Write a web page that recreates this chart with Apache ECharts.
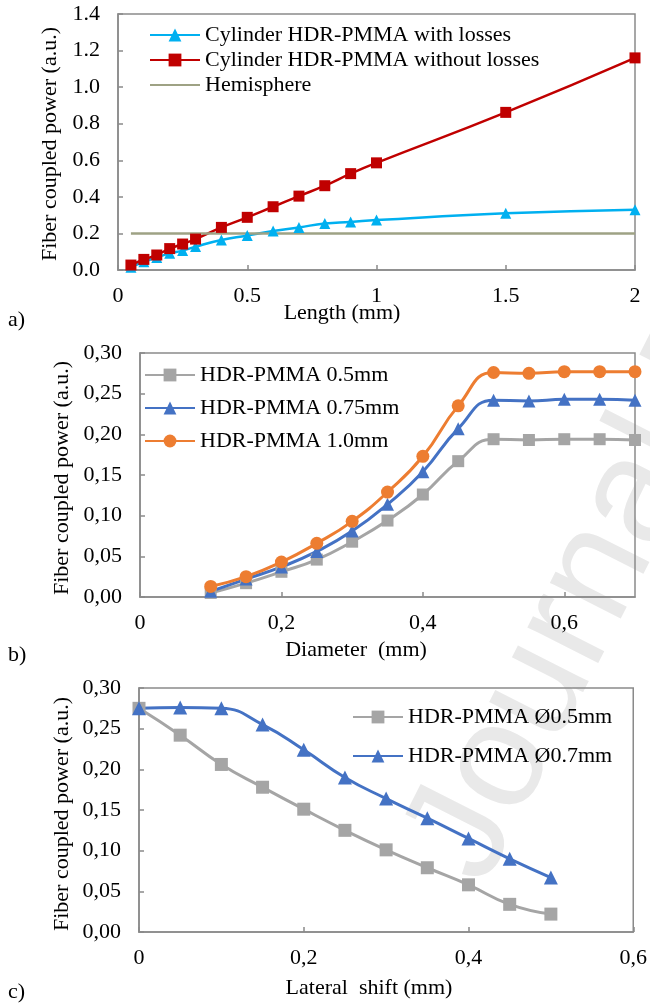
<!DOCTYPE html>
<html>
<head>
<meta charset="utf-8">
<script src="https://cdn.jsdelivr.net/npm/echarts@6/dist/echarts.min.js"></script>
<style>
  html, body { margin: 0; padding: 0; background: #fff; }
  #main { width: 650px; height: 1003px; }
</style>
</head>
<body>
<div id="main"></div>
<script>
// a) fiber coupled power vs length
const lengthMm = [0.05, 0.1, 0.15, 0.2, 0.25, 0.3, 0.4, 0.5, 0.6, 0.7, 0.8, 0.9, 1, 1.5, 2]
const withLosses = [0.015, 0.045, 0.069, 0.091, 0.106, 0.128, 0.164, 0.188, 0.213, 0.233, 0.254, 0.263, 0.273, 0.31, 0.33]
const withoutLosses = [0.027, 0.058, 0.082, 0.117, 0.142, 0.169, 0.233, 0.288, 0.346, 0.404, 0.461, 0.527, 0.586, 0.862, 1.16]
const hemisphereX = [0.05, 2]
const hemisphere = [0.2, 0.2]

// b) vs diameter
const diameterMm = [0.1, 0.15, 0.2, 0.25, 0.3, 0.35, 0.4, 0.45, 0.5, 0.55, 0.6, 0.65, 0.7]
const len05 = [0.005, 0.017, 0.031, 0.046, 0.068, 0.094, 0.126, 0.167, 0.194, 0.193, 0.194, 0.194, 0.193]
const len075 = [0.007, 0.022, 0.037, 0.056, 0.081, 0.114, 0.154, 0.207, 0.242, 0.241, 0.243, 0.243, 0.242]
const len10 = [0.013, 0.025, 0.043, 0.066, 0.093, 0.129, 0.173, 0.235, 0.276, 0.275, 0.277, 0.277, 0.277]

// c) vs lateral shift
const shiftMm = [0, 0.05, 0.1, 0.15, 0.2, 0.25, 0.3, 0.35, 0.4, 0.45, 0.5]
const dia05 = [0.275, 0.242, 0.206, 0.178, 0.151, 0.125, 0.101, 0.079, 0.058, 0.034, 0.022]
const dia07 = [0.275, 0.276, 0.275, 0.255, 0.224, 0.19, 0.164, 0.14, 0.115, 0.09, 0.067]

const FONT = "'Liberation Serif', 'Times New Roman', serif"
const FS = 22
const AXIS = '#8a8a8a'

const pairs = (xs, ys) => xs.map((x, i) => [x, ys[i]])
const comma = (v, d) => v.toFixed(d).replace('.', ',')

function xAxis(idx, max, interval, fmt) {
  return {
    type: 'value', gridIndex: idx, min: 0, max: max, interval: interval,
    splitLine: { show: false },
    axisLine: { lineStyle: { color: AXIS, width: 1.5 } },
    axisTick: { inside: true, length: 5, lineStyle: { color: AXIS, width: 1.5 } },
    axisLabel: { color: '#000', fontFamily: FONT, fontSize: FS, margin: 15, formatter: fmt, showMaxLabel: idx !== 1 }
  }
}
function yAxis(idx, max, interval, fmt) {
  return {
    type: 'value', gridIndex: idx, min: 0, max: max, interval: interval,
    splitLine: { show: false },
    axisLine: { show: true, lineStyle: { color: AXIS, width: 1.5 } },
    axisTick: { show: true, inside: true, length: 5, lineStyle: { color: AXIS, width: 1.5 } },
    axisLabel: { color: '#000', fontFamily: FONT, fontSize: FS, margin: 18, formatter: fmt }
  }
}
function line(name, idx, data, color, symbol, size, width, smooth) {
  return {
    name: name, type: 'line', xAxisIndex: idx, yAxisIndex: idx,
    data: data, smooth: smooth, symbol: symbol, symbolSize: size,
    lineStyle: { color: color, width: width },
    itemStyle: { color: color },
    showSymbol: symbol !== 'none'
  }
}
function legend(names, left, top, gap) {
  return {
    data: names, orient: 'vertical', left: left, top: top, itemGap: gap,
    itemWidth: 50, itemHeight: 16,
    textStyle: { color: '#000', fontFamily: FONT, fontSize: FS }
  }
}
function label(text, x, y, rot) {
  return {
    type: 'text', x: x, y: y, rotation: rot || 0,
    style: { text: text, fill: '#000', fontFamily: FONT, fontSize: FS, textAlign: 'center', textVerticalAlign: 'middle', align: 'center', verticalAlign: 'middle' }
  }
}

const chart = echarts.init(document.getElementById('main'))
chart.setOption({
  animation: false,
  grid: [
    { left: 118, top: 14, width: 517, height: 256, show: true, borderColor: AXIS, borderWidth: 1.5 },
    { left: 140, top: 353, width: 495, height: 244, show: true, borderColor: AXIS, borderWidth: 1.5 },
    { left: 139, top: 688, width: 496, height: 244, show: true, borderColor: AXIS, borderWidth: 1.5 }
  ],
  xAxis: [
    xAxis(0, 2, 0.5, v => String(v)),
    xAxis(1, 0.7, 0.2, v => v === 0 ? '0' : comma(v, 1)),
    xAxis(2, 0.6, 0.2, v => v === 0 ? '0' : comma(v, 1))
  ],
  yAxis: [
    yAxis(0, 1.4, 0.2, v => v.toFixed(1)),
    yAxis(1, 0.3, 0.05, v => comma(v, 2)),
    yAxis(2, 0.3, 0.05, v => comma(v, 2))
  ],
  legend: [
    legend(['Cylinder HDR-PMMA with losses', 'Cylinder HDR-PMMA without losses',
      { name: 'Hemisphere', itemStyle: { opacity: 0 } }], 144, 19, 3),
    legend(['HDR-PMMA 0.5mm', 'HDR-PMMA 0.75mm', 'HDR-PMMA 1.0mm'], 139, 359, 11),
    legend(['HDR-PMMA Ø0.5mm', 'HDR-PMMA Ø0.7mm'], 347, 701, 17)
  ],
  series: [
    line('Cylinder HDR-PMMA with losses', 0, pairs(lengthMm, withLosses), '#00b0f0', 'triangle', 11, 2.5, true),
    line('Cylinder HDR-PMMA without losses', 0, pairs(lengthMm, withoutLosses), '#c00000', 'rect', 11, 2.5, true),
    line('Hemisphere', 0, pairs(hemisphereX, hemisphere), '#9ea284', 'none', 0, 2.5, false),
    line('HDR-PMMA 0.5mm', 1, pairs(diameterMm, len05), '#a5a5a5', 'rect', 12, 3, true),
    line('HDR-PMMA 0.75mm', 1, pairs(diameterMm, len075), '#4472c4', 'triangle', 13, 3, true),
    line('HDR-PMMA 1.0mm', 1, pairs(diameterMm, len10), '#ed7d31', 'circle', 13, 3, true),
    line('HDR-PMMA Ø0.5mm', 2, pairs(shiftMm, dia05), '#a5a5a5', 'rect', 13, 3, true),
    line('HDR-PMMA Ø0.7mm', 2, pairs(shiftMm, dia07), '#4472c4', 'triangle', 14, 3, true)
  ],
  graphic: [
    // watermark
    {
      type: 'text', x: 380, y: 835, rotation: 1.1, z: -10,
      style: { text: 'Journal Pre-proof', fill: '#e9e9e9', fontFamily: "'Liberation Sans', Arial, sans-serif", fontSize: 150 }
    },
    label('Fiber coupled power (a.u.)', 50, 144, Math.PI / 2),
    label('Length (mm)', 342, 313),
    label('Fiber coupled power (a.u.)', 62, 478, Math.PI / 2),
    label('Diameter  (mm)', 356, 650),
    label('Fiber coupled power (a.u.)', 62, 814, Math.PI / 2),
    label('Lateral  shift (mm)', 369, 988),
    { type: 'text', left: 8, top: 309, style: { text: 'a)', fill: '#000', fontFamily: FONT, fontSize: FS } },
    { type: 'text', left: 8, top: 644, style: { text: 'b)', fill: '#000', fontFamily: FONT, fontSize: FS } },
    { type: 'text', left: 8, top: 981, style: { text: 'c)', fill: '#000', fontFamily: FONT, fontSize: FS } }
  ]
})
</script>
</body>
</html>
